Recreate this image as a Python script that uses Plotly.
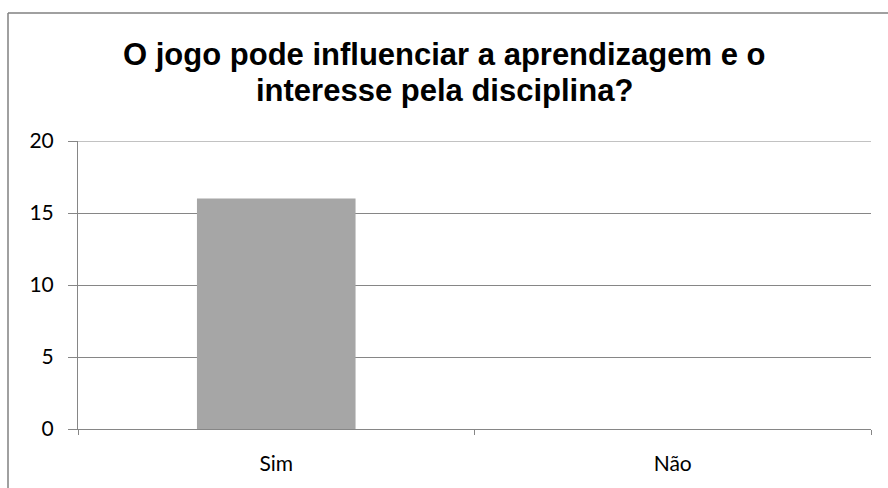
import plotly.graph_objects as go

categories = ["Sim", "Não"]
values = [16, 0]
y_ticks = [0, 5, 10, 15, 20]
title_lines = ["O jogo pode influenciar a aprendizagem e o", "interesse pela disciplina?"]

W, H = 888, 488
L, R, T, B = 78, 17, 141, 59
pw, ph = W - L - R, H - T - B

def px_x(x):
    return (x - L) / pw

def px_y(y):
    return (H - B - y) / ph

fig = go.Figure()
fig.add_trace(go.Bar(x=categories, y=values, marker=dict(color="#a6a6a6", line=dict(width=0)),
                     width=0.4, showlegend=False, hoverinfo="x+y"))

grid = "#868686"
fig.update_layout(
    width=W, height=H,
    margin=dict(l=L, r=R, t=T, b=B, autoexpand=False),
    paper_bgcolor="white", plot_bgcolor="white",
    bargap=0.6,
    xaxis=dict(
        type="category", tickson="boundaries", ticks="outside", ticklen=5, tickcolor=grid, tickwidth=1,
        showline=True, linecolor=grid, linewidth=1, showgrid=False, automargin=False,
        tickfont=dict(family="Lato", size=21, color="#000000"),
        ticklabelstandoff=16,
    ),
    yaxis=dict(
        range=[0, 20], tickvals=y_ticks, ticks="outside", ticklen=9, tickcolor=grid, tickwidth=1,
        showline=True, linecolor=grid, linewidth=1, showgrid=True, gridcolor=grid, gridwidth=1,
        zeroline=False, automargin=False,
        tickfont=dict(family="Lato", size=21, color="#000000"),
        ticklabelstandoff=10,
    ),
)

# gridline at the top of the value range
fig.add_shape(type="line", xref="paper", yref="y", x0=0, x1=1, y0=y_ticks[-1], y1=y_ticks[-1],
              line=dict(color=grid, width=1))

fig.add_annotation(text="<b>" + title_lines[0] + "</b>", xref="paper", yref="paper",
                   x=px_x(444), y=px_y(54), xanchor="center", yanchor="middle", showarrow=False,
                   font=dict(family="Liberation Sans", size=31, color="#000000"))
fig.add_annotation(text="<b>" + title_lines[1] + "</b>", xref="paper", yref="paper",
                   x=px_x(444), y=px_y(91), xanchor="center", yanchor="middle", showarrow=False,
                   font=dict(family="Liberation Sans", size=31, color="#000000"))

# outer chart border (left and top edges visible)
fig.add_shape(type="line", xref="paper", yref="paper", x0=px_x(8), y0=px_y(13), x1=px_x(890), y1=px_y(13),
              line=dict(color="#808080", width=1.5))
fig.add_shape(type="line", xref="paper", yref="paper", x0=px_x(8), y0=px_y(13), x1=px_x(8), y1=px_y(490),
              line=dict(color="#808080", width=1.5))

fig.write_html("out.html", config={"displayModeBar": False},
               post_script="document.body.style.margin='0';document.body.style.overflow='hidden';")
